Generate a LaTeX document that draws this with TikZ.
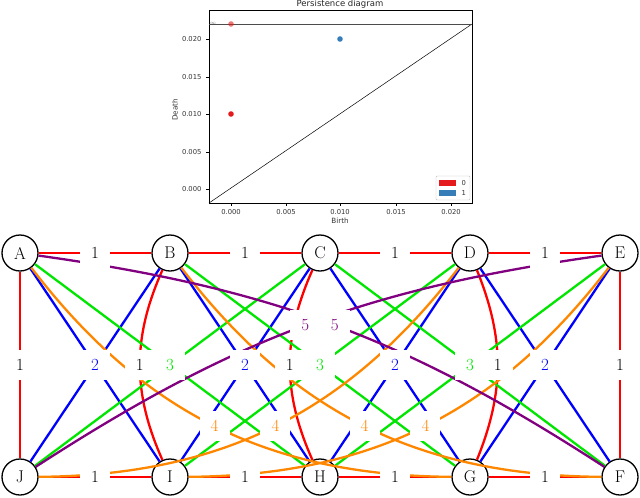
\documentclass[tikz,border=0pt]{standalone}
\usepackage{fontspec}
\newfontfamily\plotfont{DejaVu Sans}
\begin{document}
\begin{tikzpicture}[x=1pt,y=-1pt,
  vert/.style={circle,draw,line width=1.3pt,minimum size=36pt,inner sep=0pt,fill=white,font=\fontsize{17}{20}\selectfont},
  lbl/.style={fill=white,inner sep=0pt,minimum size=30pt,font=\fontsize{17}{20}\selectfont},
  er/.style={draw=red,line width=2.3pt},
  eb/.style={draw=blue,line width=2.3pt},
  eg/.style={draw=grn,line width=2.3pt},
  eo/.style={draw=org,line width=2.3pt},
  ep/.style={draw=prp,line width=2.3pt},
  tick/.style={font=\plotfont\fontsize{6.8}{7}\selectfont,text=black!80}]
\definecolor{grn}{RGB}{0,230,0}
\definecolor{org}{RGB}{255,135,0}
\definecolor{prp}{RGB}{128,0,128}
\definecolor{pred}{RGB}{228,26,28}
\definecolor{pblue}{RGB}{55,126,184}
\useasboundingbox (0,0) rectangle (640,498);
% ---- persistence diagram ----
\draw[line width=0.6pt] (209,10) rectangle (472,203);
\draw[line width=0.5pt] (209,203) -- (472,24);
\draw[line width=0.5pt,black!70] (209,24) -- (472,24);
\node[font=\plotfont\fontsize{3}{3}\selectfont,text=black!50] at (213,23) {$\infty$};
\fill[pred,opacity=0.6] (231,24) circle (2.8pt);
\fill[pred] (231,114) circle (2.8pt);
\fill[pblue] (340,39) circle (2.8pt);
\node[font=\plotfont\fontsize{8.5}{9}\selectfont,text=black!85] at (340,4) {Persistence diagram};
\node[tick,font=\plotfont\fontsize{7.2}{8}\selectfont] at (340,221) {Birth};
\node[tick,rotate=90,font=\plotfont\fontsize{7.2}{8}\selectfont] at (175,110) {Death};
\foreach \v/\yy in {0.020/39,0.015/77,0.010/114,0.005/152,0.000/189}{
  \draw[line width=0.5pt] (209,\yy) -- (206,\yy);
  \node[tick,anchor=east] at (205,\yy) {\v};}
\foreach \v/\xx in {0.000/231,0.005/286,0.010/340,0.015/396,0.020/451}{
  \draw[line width=0.5pt] (\xx,203) -- (\xx,206);
  \node[tick,anchor=north] at (\xx,206) {\v};}
\draw[black!25,fill=white,rounded corners=1pt] (436,176) rectangle (470,200);
\fill[pred] (439,180) rectangle (456,186);
\fill[pblue] (439,190) rectangle (456,196);
\node[tick,anchor=west] at (458,183) {0};
\node[tick,anchor=west] at (458,193) {1};
% ---- graph ----
\node[vert] (A) at (20,253) {A};
\node[vert] (B) at (170,253) {B};
\node[vert] (C) at (320,253) {C};
\node[vert] (D) at (470,253) {D};
\node[vert] (E) at (620,253) {E};
\node[vert] (J) at (20,477) {J};
\node[vert] (I) at (170,477) {I};
\node[vert] (H) at (320,477) {H};
\node[vert] (G) at (470,477) {G};
\node[vert] (F) at (620,477) {F};
\begin{scope}[on background layer/.try]
% red weight 1
\path[er] (A) -- coordinate (r1) (B);
\path[er] (B) -- coordinate (r2) (C);
\path[er] (C) -- coordinate (r3) (D);
\path[er] (D) -- coordinate (r4) (E);
\path[er] (J) -- coordinate (r5) (I);
\path[er] (I) -- coordinate (r6) (H);
\path[er] (H) -- coordinate (r7) (G);
\path[er] (G) -- coordinate (r8) (F);
\path[er] (A) -- coordinate (r9) (J);
\path[er] (E) -- coordinate (r10) (F);
\path[er] (B) to[bend right=24] coordinate (r11) (I);
\path[er] (C) to[bend right=24] coordinate (r12) (H);
\path[er] (D) to[bend left=22] coordinate (r13) (G);
% blue weight 2
\path[eb] (A) -- coordinate (b1) (I);
\path[eb] (B) -- (J);
\path[eb] (B) -- coordinate (b2) (H);
\path[eb] (C) -- (I);
\path[eb] (C) -- coordinate (b3) (G);
\path[eb] (D) -- (H);
\path[eb] (D) -- coordinate (b4) (F);
\path[eb] (E) -- (G);
% green weight 3
\path[eg] (A) -- coordinate (g1) (H);
\path[eg] (C) -- (J);
\path[eg] (B) -- coordinate (g2) (G);
\path[eg] (D) -- (I);
\path[eg] (C) -- coordinate (g3) (F);
\path[eg] (E) -- (H);
% orange weight 4
\path[eo] (A) to[bend right=26] coordinate (o1) (G);
\path[eo] (J) to[bend right=26] coordinate (o2) (D);
\path[eo] (B) to[bend right=26] coordinate (o3) (F);
\path[eo] (I) to[bend right=26] coordinate (o4) (E);
% purple weight 5
\path[ep] (J) to[bend left=12.5] coordinate (p1) (E);
\path[ep] (A) to[bend left=12.5] coordinate (p2) (F);
\end{scope}
\foreach \c in {r1,r2,r3,r4,r5,r6,r7,r8,r9,r10,r11,r12,r13} \node[lbl] at (\c) {1};
\foreach \c in {b1,b2,b3,b4} \node[lbl,text=blue] at (\c) {2};
\foreach \c in {g1,g2,g3} \node[lbl,text=grn] at (\c) {3};
\foreach \c in {o1,o2,o3,o4} \node[lbl,text=org] at (\c) {4};
\foreach \c in {p1,p2} \node[lbl,text=prp] at (\c) {5};
\end{tikzpicture}
\end{document}
